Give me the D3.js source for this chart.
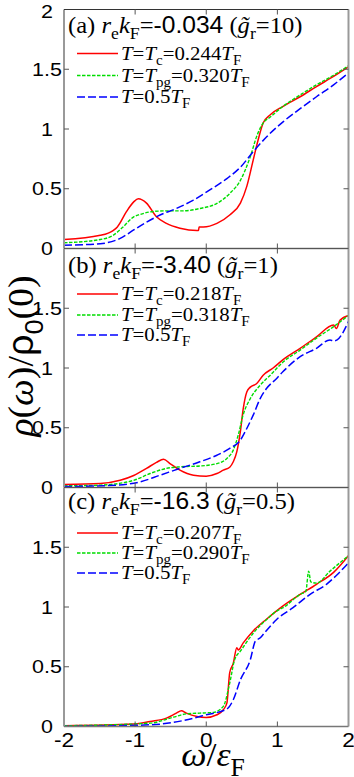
<!DOCTYPE html>
<html>
<head>
<meta charset="utf-8">
<script src="https://cdn.jsdelivr.net/npm/d3@7"></script>
<style>
  body { margin: 0; background: #fff; }
  svg { display: block; }
</style>
</head>
<body>
<svg id="chart"></svg>
<script>
// values (x = omega/eF, y = rho(w)/rho0(0))
var redA = [[-2,0.075],[-1.49,0.11],[-1.31,0.15],[-1.25,0.18],[-1.12,0.31],[-1.02,0.39],[-0.955,0.416],[-0.84,0.38],[-0.70,0.265],[-0.56,0.21],[-0.37,0.17],[-0.13,0.15],[-0.11,0.15],[-0.1,0.18],[-0.04,0.18],[0.15,0.21],[0.33,0.28],[0.48,0.38],[0.57,0.52],[0.66,0.74],[0.73,0.91],[0.80,1.05],[0.90,1.12],[1.08,1.19],[1.32,1.27],[1.55,1.355],[1.79,1.44],[2.0,1.52]];
var greenA = [[-2,0.048],[-1.49,0.075],[-1.31,0.11],[-1.17,0.18],[-1.02,0.265],[-0.93,0.285],[-0.74,0.31],[-0.56,0.315],[-0.32,0.315],[-0.09,0.335],[0.15,0.377],[0.33,0.46],[0.48,0.57],[0.62,0.77],[0.71,0.94],[0.80,1.05],[0.90,1.10],[1.08,1.19],[1.32,1.285],[1.55,1.37],[1.79,1.45],[2.0,1.53]];
var blueA = [[-2,0.028],[-1.49,0.04],[-1.21,0.085],[-1.02,0.155],[-0.84,0.22],[-0.65,0.28],[-0.42,0.335],[-0.18,0.405],[0.05,0.49],[0.29,0.585],[0.48,0.68],[0.66,0.81],[0.85,0.935],[1.08,1.06],[1.32,1.17],[1.55,1.27],[1.79,1.37],[2.0,1.47]];

var redB = [[-2,0.025],[-1.49,0.033],[-1.21,0.06],[-1.02,0.1],[-0.84,0.16],[-0.70,0.21],[-0.60,0.237],[-0.51,0.2],[-0.37,0.145],[-0.18,0.103],[0.0,0.095],[0.15,0.117],[0.24,0.145],[0.33,0.17],[0.38,0.215],[0.43,0.30],[0.48,0.47],[0.52,0.66],[0.57,0.80],[0.62,0.84],[0.71,0.87],[0.80,0.94],[0.94,1.0],[1.08,1.07],[1.32,1.165],[1.55,1.26],[1.79,1.36],[1.83,1.33],[1.88,1.40],[2.0,1.44]];
var greenB = [[-2,0.014],[-1.49,0.02],[-1.02,0.06],[-0.79,0.117],[-0.56,0.16],[-0.37,0.173],[-0.09,0.18],[0.15,0.2],[0.29,0.243],[0.38,0.313],[0.45,0.44],[0.52,0.61],[0.62,0.745],[0.76,0.857],[0.90,0.94],[1.08,1.05],[1.32,1.15],[1.55,1.25],[1.79,1.346],[2.0,1.44]];
var blueB = [[-2,0.008],[-1.26,0.02],[-0.93,0.047],[-0.65,0.103],[-0.37,0.16],[-0.09,0.215],[0.15,0.27],[0.33,0.327],[0.48,0.397],[0.57,0.494],[0.66,0.606],[0.76,0.746],[0.85,0.83],[0.99,0.913],[1.08,0.97],[1.32,1.095],[1.55,1.165],[1.74,1.235],[1.79,1.226],[1.84,1.235],[2.0,1.39]];

var redC = [[-2,0.006],[-1.02,0.02],[-0.79,0.042],[-0.56,0.07],[-0.42,0.112],[-0.35,0.132],[-0.28,0.112],[-0.13,0.084],[0.0,0.076],[0.15,0.098],[0.24,0.14],[0.29,0.196],[0.33,0.45],[0.38,0.53],[0.43,0.66],[0.45,0.64],[0.52,0.70],[0.66,0.80],[0.85,0.90],[1.08,1.01],[1.32,1.105],[1.55,1.19],[1.79,1.29],[2.0,1.43]];
var greenC = [[-2,0.006],[-0.79,0.028],[-0.46,0.078],[-0.28,0.106],[-0.09,0.112],[0.1,0.118],[0.24,0.168],[0.33,0.364],[0.40,0.56],[0.48,0.63],[0.66,0.78],[0.85,0.896],[0.99,0.966],[1.08,0.994],[1.32,1.106],[1.40,1.13],[1.44,1.30],[1.47,1.21],[1.55,1.2],[1.74,1.3],[2.0,1.43]];
var blueC = [[-2,0.0],[-0.79,0.014],[-0.32,0.05],[0.0,0.098],[0.29,0.146],[0.38,0.224],[0.48,0.39],[0.62,0.56],[0.69,0.714],[0.76,0.742],[0.80,0.77],[0.99,0.896],[1.22,0.994],[1.46,1.106],[1.69,1.19],[1.84,1.27],[2.0,1.37]];

var panelTags = ["(a)", "(b)", "(c)"];
var reKF = ["-0.034", "-3.40", "-16.3"];
var gR = ["10", "1", "0.5"];
var tcVals = ["0.244", "0.218", "0.207"];
var tpgVals = ["0.320", "0.318", "0.290"];
var xTicks = [-2, -1, 0, 1, 2];
var yTicks = [0, 0.5, 1, 1.5, 2];

var W = 354, H = 777;
var left = 64, right = 348.5;
var panelTops = [9.5, 248.5, 487.5];
var panelH = 239;
var serif = "'Liberation Serif','Times New Roman',serif";
var sans = "'Liberation Sans',Arial,sans-serif";

var svg = d3.select("#chart").attr("width", W).attr("height", H);

var x = d3.scaleLinear().domain([-2, 2]).range([left, right]);

var series = [[redA, greenA, blueA], [redB, greenB, blueB], [redC, greenC, blueC]];
var styles = [
  { color: "#ff0000", dash: null, w: 1.5 },
  { color: "#00dd00", dash: "3.5,1.5", w: 1.4 },
  { color: "#0000ff", dash: "8,3", w: 1.5 }
];

// the original figure is a bit stretched sideways, so text gets a small x scale
function placeText(parent, px, py, sx) {
  return parent.append("text")
    .attr("transform", "translate(" + px + "," + py + ") scale(" + sx + ",1)");
}

// writes a run of segments into a text element; sub segments are lowered
function richText(sel, segs, size) {
  var shift = 0;
  segs.forEach(function(s) {
    var t = sel.append("tspan").text(s.t);
    var want = s.sub ? size * 0.28 : 0;
    if (want != shift) { t.attr("dy", want - shift); shift = want; }
    if (s.sub) t.attr("font-size", size * 0.72);
    if (s.i) t.attr("font-style", "italic");
    if (s.f) t.attr("font-family", s.f);
  });
}

panelTops.forEach(function(top, p) {
  var y = d3.scaleLinear().domain([0, 2]).range([top + panelH, top]);
  var g = svg.append("g");

  var line = d3.line()
    .x(function(d) { return x(d[0]); })
    .y(function(d) { return y(d[1]); })
    .curve(d3.curveMonotoneX);

  g.append("clipPath").attr("id", "clip" + p)
    .append("rect").attr("x", left).attr("y", top).attr("width", right - left).attr("height", panelH);

  series[p].forEach(function(d, k) {
    g.append("path")
      .datum(d)
      .attr("d", line)
      .attr("clip-path", "url(#clip" + p + ")")
      .attr("fill", "none")
      .attr("stroke", styles[k].color)
      .attr("stroke-width", styles[k].w)
      .attr("stroke-dasharray", styles[k].dash);
  });

  // frame
  g.append("line").attr("x1", left).attr("x2", left).attr("y1", top).attr("y2", top + panelH)
    .attr("stroke", "#999").attr("stroke-width", 2);
  g.append("line").attr("x1", right).attr("x2", right).attr("y1", top).attr("y2", top + panelH)
    .attr("stroke", "#999").attr("stroke-width", 2);
  g.append("line").attr("x1", left).attr("x2", right).attr("y1", top).attr("y2", top)
    .attr("stroke", p == 0 ? "#333" : "#555").attr("stroke-width", 1.2);
  g.append("line").attr("x1", left).attr("x2", right).attr("y1", top + panelH).attr("y2", top + panelH)
    .attr("stroke", "#777").attr("stroke-width", 1.5);

  // ticks (inward, all four sides)
  xTicks.slice(1, -1).forEach(function(t) {
    g.append("line").attr("x1", x(t)).attr("x2", x(t)).attr("y1", top + panelH).attr("y2", top + panelH - 5)
      .attr("stroke", "#555").attr("stroke-width", 1);
    g.append("line").attr("x1", x(t)).attr("x2", x(t)).attr("y1", top).attr("y2", top + 5)
      .attr("stroke", "#555").attr("stroke-width", 1);
  });
  yTicks.slice(1, -1).forEach(function(t) {
    g.append("line").attr("x1", left).attr("x2", left + 5).attr("y1", y(t)).attr("y2", y(t))
      .attr("stroke", "#555").attr("stroke-width", 1);
    g.append("line").attr("x1", right).attr("x2", right - 5).attr("y1", y(t)).attr("y2", y(t))
      .attr("stroke", "#555").attr("stroke-width", 1);
  });

  // y tick labels
  var yLabs = p == 0 ? yTicks : yTicks.slice(0, -1);
  yLabs.forEach(function(d) {
    placeText(g, 47, Math.max(y(d) + 6.5, 18), 1.16)
      .attr("text-anchor", "middle")
      .attr("font-family", sans).attr("font-size", 18.5)
      .text(d);
  });

  // panel title
  var titleY = top + [23, 24, 21][p];
  var title = placeText(g, 68, titleY, 1.07)
    .attr("font-family", serif).attr("font-size", 23).attr("fill", "#000");
  richText(title, [
    { t: panelTags[p] + " " },
    { t: "r", i: true }, { t: "e", sub: true },
    { t: "k", i: true }, { t: "F", sub: true },
    { t: "=" }, { t: reKF[p], f: sans },
    { t: " (" }, { t: "g\u0303", i: true }, { t: "r", sub: true },
    { t: "=" + gR[p] + ")" }
  ], 23);

  // legend
  var rows = [
    [{ t: "T", i: true }, { t: "=" }, { t: "T", i: true }, { t: "c", sub: true }, { t: "=" + tcVals[p] }, { t: "T", i: true }, { t: "F", sub: true }],
    [{ t: "T", i: true }, { t: "=" }, { t: "T", i: true }, { t: "pg", sub: true }, { t: "=" + tpgVals[p] }, { t: "T", i: true }, { t: "F", sub: true }],
    [{ t: "T", i: true }, { t: "=0.5" }, { t: "T", i: true }, { t: "F", sub: true }]
  ];
  var rowOff = [[44, 66, 87.5], [45.5, 66.5, 86.5], [45.5, 65.5, 85.5]][p];
  rows.forEach(function(r, k) {
    var ly = top + rowOff[k];
    g.append("line").attr("x1", 77).attr("x2", 118).attr("y1", ly).attr("y2", ly)
      .attr("stroke", styles[k].color).attr("stroke-width", styles[k].w)
      .attr("stroke-dasharray", styles[k].dash);
    var tx = placeText(g, 121, ly + 6, 1.07)
      .attr("font-family", serif).attr("font-size", 19.5);
    richText(tx, r, 19.5);
  });
});

// x tick labels on bottom panel only
var bottom = panelTops[2] + panelH;
xTicks.forEach(function(d) {
  placeText(svg, x(d), bottom + 20, 1.16)
    .attr("text-anchor", "middle")
    .attr("font-family", sans).attr("font-size", 19.5)
    .text(d);
});

// axis titles
var xt = placeText(svg, 213, 766, 1.05).attr("text-anchor", "middle")
  .attr("font-family", serif).attr("font-size", 34);
richText(xt, [{ t: "\u03c9", i: true }, { t: "/" }, { t: "\u03b5", i: true }, { t: "F", sub: true }], 34);

var yt = svg.append("text")
  .attr("transform", "translate(33,356) rotate(-90) scale(1.05,1)")
  .attr("text-anchor", "middle")
  .attr("font-family", serif).attr("font-size", 36);
richText(yt, [{ t: "\u03c1", i: true }, { t: "(" }, { t: "\u03c9", i: true }, { t: ")/" }, { t: "\u03c1", f: sans }, { t: "0", sub: true, f: sans }, { t: "(0)" }], 36);
</script>
</body>
</html>
